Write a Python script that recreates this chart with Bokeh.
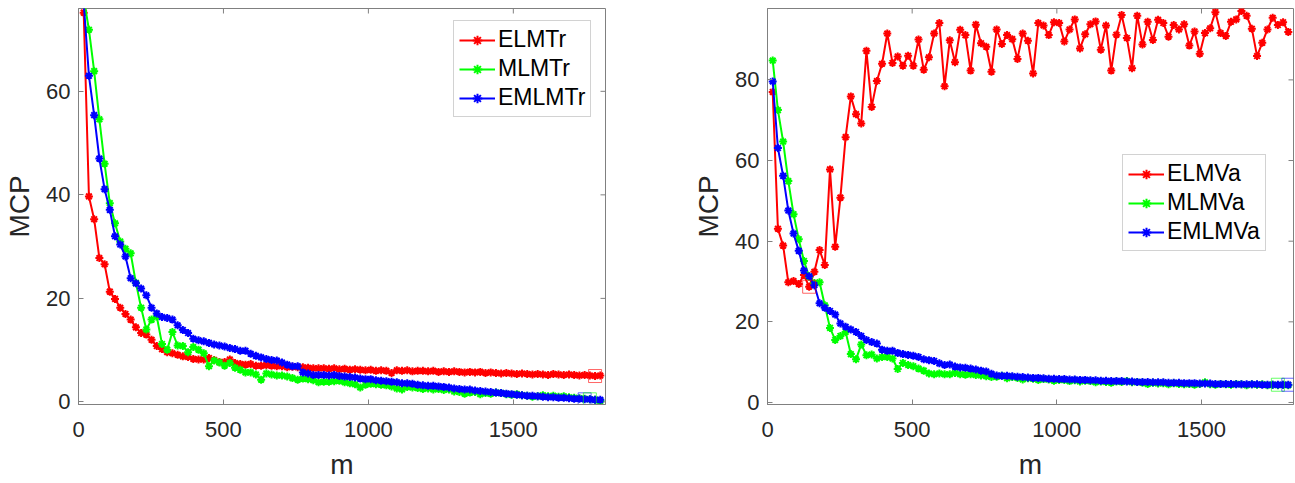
from bokeh.plotting import figure
from bokeh.models import Range1d, FixedTicker, Legend, LegendItem
from bokeh.layouts import row
from bokeh.embed import file_html
from bokeh.resources import INLINE

# x values (m)
m = list(range(18, 1801, 18))

# ---------- left panel (training) ----------
elm_tr = [75.2, 39.7, 35.3, 27.8, 26.6, 21.3, 19.9, 18.2, 17.0, 15.9,
          14.4, 13.3, 13.0, 12.0, 10.8, 10.2, 9.6, 9.4, 9.1, 8.8,
          8.7, 8.3, 8.2, 8.2, 8.5, 8.1, 7.7, 7.7, 8.2, 7.5,
          7.3, 7.2, 7.3, 7.0, 7.0, 7.1, 7.0, 6.9, 6.9, 6.7,
          6.8, 6.7, 6.7, 6.6, 6.5, 6.5, 6.5, 6.4, 6.5, 6.3,
          6.4, 6.2, 6.3, 6.2, 6.1, 6.2, 6.0, 6.1, 6.0, 5.6,
          6.1, 6.0, 6.1, 5.9, 6.0, 6.0, 5.9, 6.0, 5.8, 5.9,
          5.8, 5.9, 5.8, 5.7, 5.8, 5.7, 5.8, 5.6, 5.7, 5.6,
          5.5, 5.6, 5.5, 5.4, 5.5, 5.4, 5.3, 5.4, 5.3, 5.2,
          5.4, 5.3, 5.2, 5.3, 5.2, 5.1, 5.2, 5.1, 5.0, 5.1]
mlm_tr = [78.0, 71.9, 63.9, 54.6, 46.0, 38.4, 34.5, 31.0, 29.6, 28.7,
          23.0, 18.2, 14.0, 15.9, 16.5, 11.2, 10.1, 13.5, 10.9, 10.8,
          9.6, 10.6, 10.1, 9.4, 6.9, 8.0, 7.6, 7.0, 7.5, 6.6,
          6.2, 5.7, 5.7, 5.3, 4.3, 5.5, 5.3, 5.1, 5.1, 4.9,
          4.6, 4.3, 4.5, 4.4, 4.2, 3.8, 3.9, 3.9, 4.0, 4.1,
          3.8, 3.6, 3.4, 2.8, 3.3, 3.5, 3.4, 3.3, 3.2, 3.0,
          2.6, 2.4, 2.9, 2.8, 2.7, 2.5, 2.6, 2.4, 2.5, 2.3,
          2.4, 2.0, 1.9, 1.6, 1.8, 1.9, 1.5, 1.7, 1.6, 1.8,
          1.7, 1.5, 1.4, 1.5, 1.3, 1.2, 1.0, 1.1, 1.3, 1.1,
          1.2, 1.0, 1.1, 0.9, 0.8, 0.7, 0.6, 0.5, 0.4, 0.2]
emlm_tr = [77.0, 63.0, 55.4, 47.0, 41.1, 37.1, 32.0, 30.4, 28.1, 23.9,
           22.9, 21.9, 20.6, 18.2, 17.1, 16.4, 16.2, 15.9, 14.8, 13.9,
           13.3, 12.2, 11.9, 11.7, 11.4, 11.1, 10.9, 10.7, 10.4, 10.2,
           9.9, 9.9, 9.3, 8.9, 8.6, 8.3, 8.1, 8.0, 7.6, 7.2,
           6.9, 6.9, 5.7, 5.5, 5.2, 5.2, 5.2, 5.1, 5.2, 5.0,
           4.9, 4.8, 4.7, 4.5, 4.4, 4.4, 4.2, 4.1, 4.0, 3.9,
           3.8, 3.6, 3.6, 3.5, 3.3, 3.2, 3.1, 3.1, 3.0, 2.9,
           2.8, 2.6, 2.5, 2.4, 2.4, 2.2, 2.1, 2.0, 1.9, 1.8,
           1.7, 1.6, 1.5, 1.4, 1.3, 1.2, 1.2, 1.1, 1.0, 0.9,
           0.9, 0.8, 0.8, 0.7, 0.6, 0.6, 0.5, 0.5, 0.4, 0.4]

# ---------- right panel (validation) ----------
elm_va = [77.0, 43.1, 38.9, 29.8, 30.1, 29.4, 31.6, 28.7, 32.4, 37.8,
          34.1, 57.8, 38.6, 50.8, 65.8, 75.9, 71.5, 69.2, 87.2, 73.3,
          79.7, 84.0, 91.5, 84.2, 85.8, 83.5, 86.0, 83.5, 90.0, 82.5,
          85.6, 91.5, 94.1, 78.4, 89.8, 84.4, 92.4, 91.1, 82.3, 93.7,
          89.1, 88.2, 82.0, 92.5, 88.9, 91.1, 90.1, 85.2, 91.5, 89.7,
          81.6, 94.1, 93.5, 91.1, 94.3, 94.1, 89.5, 92.5, 95.0, 87.8,
          91.3, 93.8, 94.5, 87.5, 93.5, 82.3, 91.2, 96.1, 90.4, 82.9,
          95.9, 88.8, 94.4, 89.9, 94.9, 94.1, 90.7, 93.6, 92.5, 93.8,
          88.5, 92.0, 86.5, 91.6, 92.8, 96.8, 91.6, 90.9, 94.4, 95.0,
          97.1, 95.9, 92.7, 85.9, 89.2, 92.5, 95.4, 93.6, 94.3, 91.9]
mlm_va = [84.8, 72.5, 64.7, 54.9, 46.7, 40.5, 35.1, 31.2, 29.6, 29.8,
          24.1, 18.5, 15.5, 16.5, 17.5, 12.0, 10.7, 14.4, 11.7, 11.9,
          10.9, 11.3, 11.3, 10.9, 8.3, 9.8, 9.3, 9.0, 8.4, 7.9,
          7.2, 7.0, 7.2, 7.0, 7.0, 7.3, 7.0, 6.9, 7.0, 6.8,
          6.7, 6.5, 6.3, 6.4, 6.6, 6.0, 6.3, 6.1, 5.7, 6.0,
          5.9, 5.6, 5.8, 5.7, 5.4, 5.6, 5.6, 5.3, 5.5, 5.2,
          5.4, 5.3, 5.0, 5.2, 5.1, 4.9, 5.2, 5.1, 5.3, 5.0,
          5.1, 4.9, 4.6, 4.9, 4.7, 4.8, 4.5, 4.8, 4.6, 4.5,
          4.6, 4.4, 4.6, 5.0, 4.5, 4.4, 4.6, 4.5, 4.4, 4.6,
          4.5, 4.3, 4.5, 4.4, 4.5, 4.3, 4.4, 4.3, 4.4, 4.3]
emlm_va = [79.6, 63.1, 56.2, 47.6, 41.9, 37.6, 32.7, 31.3, 29.1, 24.6,
           23.5, 22.7, 21.8, 19.6, 18.8, 18.1, 17.5, 16.5, 15.5, 15.0,
           14.6, 13.1, 12.8, 12.8, 12.3, 12.0, 11.8, 11.6, 11.3, 10.7,
           10.5, 10.3, 9.7, 9.3, 9.4, 8.9, 8.7, 8.6, 8.4, 8.2,
           7.9, 7.7, 7.1, 6.7, 6.6, 6.6, 6.5, 6.4, 6.3, 6.2,
           6.1, 6.1, 6.0, 5.9, 5.9, 5.8, 5.8, 5.7, 5.7, 5.6,
           5.6, 5.5, 5.5, 5.4, 5.4, 5.3, 5.3, 5.3, 5.2, 5.2,
           5.1, 5.1, 5.1, 5.0, 5.0, 5.0, 4.9, 4.9, 4.9, 4.8,
           4.8, 4.8, 4.7, 4.7, 4.7, 4.6, 4.6, 4.6, 4.6, 4.5,
           4.5, 4.5, 4.5, 4.5, 4.4, 4.4, 4.4, 4.4, 4.4, 4.4]

# small marked points (hollow squares in the original)
marks_left_m = [1782, 1746, 1764]
marks_left_v = [5.0, 0.5, 0.5]
marks_right_m = [144, 1764, 1800]
marks_right_v = [28.7, 4.4, 4.4]
mark_colors = ["#ff0000", "#0000ff", "#00ff00"]
mark_colors_right = ["#ff0000", "#00ff00", "#0000ff"]

x_ticks = [0, 500, 1000, 1500]
y_ticks_left = [0, 20, 40, 60]
y_ticks_right = [0, 20, 40, 60, 80]

labels_left = ["ELMTr", "MLMTr", "EMLMTr"]
labels_right = ["ELMVa", "MLMVa", "EMLMVa"]
colors = ["#ff0000", "#00ff00", "#0000ff"]

X_MAX = 1818
Y_MIN = -0.5
FONT = "Liberation Sans"
AX_COL = "#808080"
TXT_COL = "#262626"


def build(width, bl, br, ymax, yticks, series, labels, legend_loc, mk_m, mk_v, mk_c):
    p = figure(width=width, height=483, output_backend="svg", toolbar_location=None,
               x_range=Range1d(0, X_MAX), y_range=Range1d(Y_MIN, ymax),
               min_border_left=bl, min_border_right=br, min_border_top=8,
               min_border_bottom=79)
    p.grid.visible = False
    p.outline_line_color = AX_COL
    p.outline_line_width = 1
    for ax in (p.xaxis[0], p.yaxis[0]):
        ax.major_tick_in = 5
        ax.major_tick_out = 0
        ax.minor_tick_line_color = None
        ax.axis_line_color = AX_COL
        ax.major_tick_line_color = AX_COL
        ax.major_label_text_font = FONT
        ax.major_label_text_font_size = "22px"
        ax.major_label_text_color = TXT_COL
        ax.axis_label_text_font = FONT
        ax.axis_label_text_font_size = "28px"
        ax.axis_label_text_font_style = "normal"
        ax.axis_label_text_color = TXT_COL
    p.xaxis.ticker = FixedTicker(ticks=x_ticks)
    p.yaxis.ticker = FixedTicker(ticks=yticks)
    p.xaxis.axis_label = "m"
    p.yaxis.axis_label = "MCP"
    p.xaxis.major_label_standoff = 17
    p.xaxis.axis_label_standoff = 9
    p.yaxis.major_label_standoff = 8
    p.yaxis.axis_label_standoff = 8

    # inward tick marks on the top and right edges (box style)
    p.scatter(x_ticks, [ymax] * len(x_ticks), marker="dash", angle=1.5708, size=10,
              line_color=AX_COL, line_width=1)
    p.scatter([X_MAX] * len(yticks), yticks, marker="dash", size=10,
              line_color=AX_COL, line_width=1)

    items = []
    for vals, lab, col in zip(series, labels, colors):
        ln = p.line(m, vals, line_color=col, line_width=2)
        sc = p.scatter(m, vals, marker="asterisk", size=8, line_color=col, line_width=2)
        items.append(LegendItem(label=lab, renderers=[ln, sc]))

    p.scatter(mk_m, mk_v, marker="square", size=13, fill_color=None,
              line_color=mk_c, line_alpha=0.6, line_width=1)

    leg = Legend(items=items, location=legend_loc)
    leg.label_text_font = FONT
    leg.label_text_font_size = "23px"
    leg.label_text_color = "black"
    leg.glyph_width = 36
    leg.glyph_height = 24
    leg.label_height = 24
    leg.spacing = 2
    leg.padding = 5
    leg.margin = 0
    leg.label_standoff = 3
    leg.border_line_color = "#a6a6a6"
    leg.border_line_width = 1
    leg.background_fill_alpha = 1.0
    p.add_layout(leg)
    return p


p1 = build(640, 78, 35, 76, y_ticks_left, [elm_tr, mlm_tr, emlm_tr], labels_left,
           (375, 287), marks_left_m, marks_left_v, mark_colors)
p2 = build(655, 127, 2, 97.7, y_ticks_right, [elm_va, mlm_va, emlm_va], labels_right,
           (355, 153), marks_right_m, marks_right_v, mark_colors_right)

layout = row(p1, p2)
open("out.html", "w").write(file_html(layout, INLINE))
